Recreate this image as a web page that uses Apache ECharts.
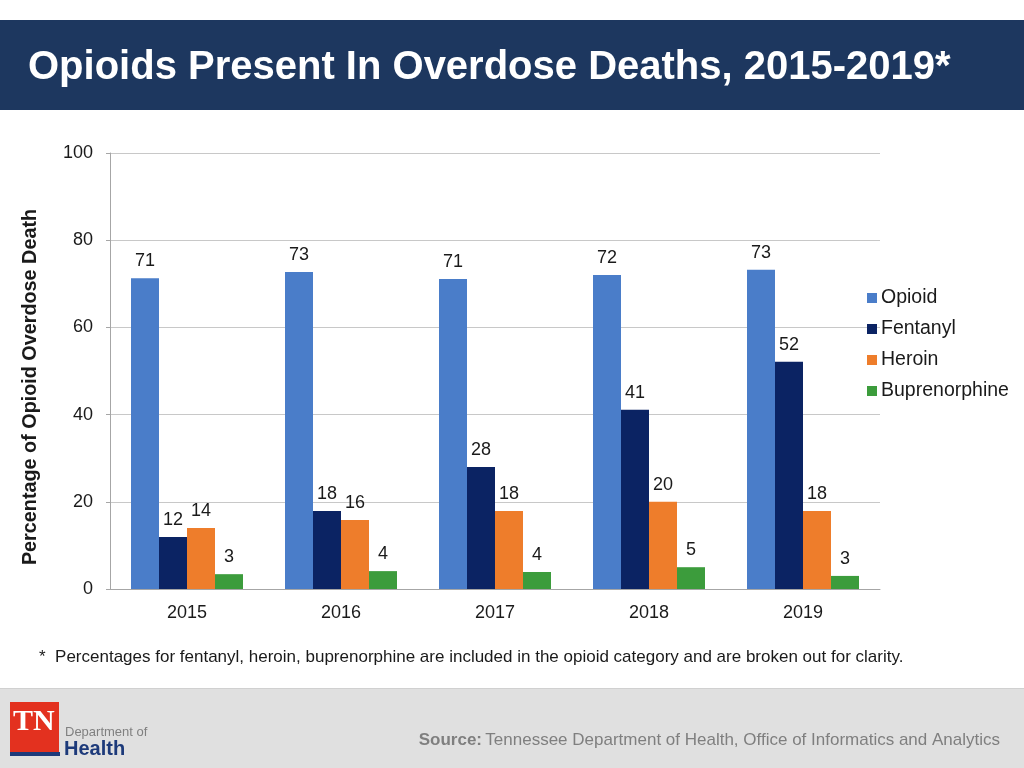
<!DOCTYPE html>
<html><head><meta charset="utf-8">
<script src="https://cdn.jsdelivr.net/npm/echarts@6/dist/echarts.min.js"></script>
<style>html,body{margin:0;padding:0;background:#fff}#c{width:1024px;height:768px}</style>
</head><body><div id="c"></div>
<script>
const years = ['2015','2016','2017','2018','2019'];
const opioid = [71.3, 72.7, 71.1, 72.0, 73.2];
const fentanyl = [11.9, 17.9, 28.0, 41.1, 52.1];
const heroin = [14.0, 15.8, 17.9, 20.0, 17.9];
const buprenorphine = [3.4, 4.1, 3.9, 5.0, 3.0];
const seriesNames = ['Opioid','Fentanyl','Heroin','Buprenorphine'];
const yTicks = [0, 20, 40, 60, 80, 100];

const colors = ['#4a7dc9','#0b2363','#ee7d2b','#3c9c3c'];
const font = 'Liberation Sans, Arial, Helvetica, sans-serif';
const chart = echarts.init(document.getElementById('c'));
const mk = (name, data, i) => ({
  name, type: 'bar', data, barWidth: 28, barGap: '0%',
  itemStyle: {color: colors[i]},
  label: {show: true, position: 'top', distance: 8, fontSize: 18, color: '#1a1a1a', fontFamily: font,
    formatter: p => Math.round(p.value)}
});
chart.setOption({
  animation: false,
  textStyle: {fontFamily: font},
  grid: {left: 110, right: 144, top: 153, bottom: 179},
  legend: {
    orient: 'vertical', left: 862, top: 283, itemWidth: 10, itemHeight: 10, itemGap: 11,
    icon: 'rect', data: seriesNames,
    textStyle: {fontSize: 19.5, color: '#1a1a1a', fontFamily: font, padding: [0,0,0,-1]}
  },
  xAxis: {
    type: 'category', data: years,
    axisLine: {lineStyle: {color: '#a6a6a6'}},
    axisTick: {show: false},
    axisLabel: {fontSize: 18, color: '#1a1a1a', margin: 15, fontFamily: font}
  },
  yAxis: {
    type: 'value', min: 0, max: 100, interval: 20,
    axisLine: {show: true, lineStyle: {color: '#a6a6a6'}},
    axisTick: {show: true, length: 4, lineStyle: {color: '#a6a6a6'}},
    splitLine: {lineStyle: {color: '#c8c8c8'}},
    axisLabel: {fontSize: 18, color: '#1a1a1a', margin: 17, fontFamily: font,
      formatter: v => yTicks.includes(v) ? String(v) : ''}
  },
  series: [mk(seriesNames[0], opioid, 0), mk(seriesNames[1], fentanyl, 1), mk(seriesNames[2], heroin, 2), mk(seriesNames[3], buprenorphine, 3)],
  graphic: [
    {type: 'rect', left: 0, top: 20, shape: {width: 1024, height: 90}, style: {fill: '#1d375f'}},
    {type: 'text', left: 28, top: 48, style: {text: 'Opioids Present In Overdose Deaths, 2015-2019*', fill: '#fff', font: 'bold 40px ' + font}},
    {type: 'text', x: 31, y: 387, rotation: Math.PI/2, style: {text: 'Percentage of Opioid Overdose Death', fill: '#1a1a1a', font: 'bold 19.8px ' + font, align: 'center', verticalAlign: 'middle'}},
    {type: 'text', left: 39, top: 649, style: {text: '*  Percentages for fentanyl, heroin, buprenorphine are included in the opioid category and are broken out for clarity.', fill: '#1a1a1a', font: '17px ' + font}},
    {type: 'rect', left: 0, top: 688, shape: {width: 1024, height: 80}, style: {fill: '#e0e0e0'}},
    {type: 'rect', left: 0, top: 688, shape: {width: 1024, height: 1}, style: {fill: '#d0d0d0'}},
    {type: 'rect', left: 10, top: 702, shape: {width: 49, height: 50}, style: {fill: '#e3311f'}},
    {type: 'rect', left: 10, top: 752, shape: {width: 50, height: 4}, style: {fill: '#1d3a7a'}},
    {type: 'text', left: 13, top: 707, style: {text: 'TN', fill: '#fff', font: 'bold 30px Liberation Serif, serif'}},
    {type: 'text', left: 65, top: 726, style: {text: 'Department of', fill: '#808080', font: '13px ' + font}},
    {type: 'text', left: 64, top: 739, style: {text: 'Health', fill: '#1d3a7a', font: 'bold 20px ' + font}},
    {type: 'text', right: 24, top: 732, style: {rich: {b: {font: 'bold 17px ' + font, fill: '#7f7f7f'}, n: {font: '17px ' + font, fill: '#7f7f7f'}}, text: '{b|Source:} {n|Tennessee Department of Health, Office of Informatics and Analytics}'}}
  ]
});
</script></body></html>
